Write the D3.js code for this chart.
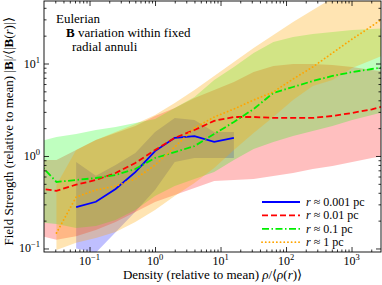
<!DOCTYPE html>
<html>
<head>
<meta charset="utf-8">
<script src="https://cdn.jsdelivr.net/npm/d3@7"></script>
<style>
  body { margin: 0; background: #fff; }
  svg text { font-family: "Liberation Serif", serif; fill: #000; }
</style>
</head>
<body>
<div id="chart"></div>
<script>
// density bins (relative to mean), factor-2 spacing: 2^-6 .. 2^12
var densBins = [0.015625, 0.03125, 0.0625, 0.125, 0.25, 0.5, 1, 2, 4, 8, 16, 32, 64, 128, 256, 512, 1024, 2048, 4096];

// r ~ 0.001 pc (bins 0.0625 .. 16)
var blueX = densBins.slice(2, 11);
var blueMid = [0.28, 0.32, 0.44, 0.67, 1.13, 1.57, 1.64, 1.42, 1.57];
var blueHi  = [0.86, 0.61, 0.80, 1.08, 1.82, 2.58, 2.45, 1.82, 1.82];
var blueLo  = [0.10, 0.09, 0.15, 0.25, 0.43, 0.86, 0.95, 0.95, 0.95];

// r ~ 0.01 pc
var redX = densBins;
var redMid = [0.45, 0.42, 0.49, 0.55, 0.655, 0.84, 1.16, 1.57, 1.91, 2.4, 2.64, 2.64, 2.58, 2.58, 2.58, 2.71, 2.92, 3.2, 3.65];
var redHi  = [0.906, 0.906, 1.16, 1.49, 1.77, 2.11, 2.71, 3.30, 4.24, 5.17, 6.31, 8.09, 9.4, 9.88, 9.88, 9.63, 9.17, 8.51, 8.09];
var redLo  = [0.140, 0.124, 0.136, 0.158, 0.193, 0.248, 0.318, 0.379, 0.451, 0.537, 0.55, 0.564, 0.608, 0.655, 0.723, 0.78, 0.861, 0.952, 1.03];

// r ~ 0.1 pc
var greenX = densBins;
var greenMid = [0.883, 0.524, 0.55, 0.578, 0.623, 0.723, 0.952, 1.10, 1.28, 1.73, 2.33, 3.22, 4.80, 5.57, 6.47, 7.33, 8.09, 8.72, 9.4];
var greenHi  = [1.42, 1.60, 1.73, 1.91, 2.06, 2.27, 2.51, 3.30, 4.34, 6.63, 9.17, 13.0, 17.1, 19.3, 20.8, 21.9, 23.0, 23.6, 24.2];
var greenLo  = [0.193, 0.184, 0.167, 0.175, 0.203, 0.261, 0.37, 0.474, 0.564, 0.671, 0.906, 1.19, 1.42, 1.64, 1.86, 2.11, 2.45, 2.78, 3.14];

// r ~ 1 pc (bins 0.03125 ..)
var orangeX = densBins.slice(1);
var orangeMid = [0.147, 0.36, 0.429, 0.474, 0.564, 0.799, 1.25, 2.01, 2.64, 3.22, 4.03, 4.92, 6.80, 9.17, 13.0, 18.4, 25.4, 36.0];
var orangeHi  = [0.486, 1.16, 1.49, 1.82, 2.22, 2.78, 3.74, 5.17, 7.33, 10.4, 14.7, 20.3, 28.1, 37.9, 51, 69, 94, 119];
var orangeLo  = [0.096, 0.115, 0.13, 0.151, 0.193, 0.261, 0.37, 0.511, 0.742, 1.16, 1.77, 2.64, 4.03, 5.71, 6.63, 8.94, 10.9, 13.3];

var legendLabels = ["0.001", "0.01", "0.1", "1"];
var xMajor = [0.1, 1, 10, 100, 1000];
var xMajorExp = ["\u22121", "0", "1", "2", "3"];
var yMajor = [0.1, 1, 10];
var yMajorExp = ["\u22121", "0", "1"];

var series = [
  {x: blueX, mid: blueMid, hi: blueHi, lo: blueLo, color: "#0000ff", fill: "#0000ff", op: 0.25, dash: null, cap: "butt"},
  {x: redX, mid: redMid, hi: redHi, lo: redLo, color: "#ff0000", fill: "#ff0000", op: 0.25, dash: "6,3", cap: "butt"},
  {x: greenX, mid: greenMid, hi: greenHi, lo: greenLo, color: "#00ee00", fill: "#00ff00", op: 0.25, dash: "7,2.5,1.5,2.5", cap: "butt"},
  {x: orangeX, mid: orangeMid, hi: orangeHi, lo: orangeLo, color: "#ffa500", fill: "#ffa500", op: 0.3, dash: "0.1,3.6", cap: "round"}
];

var margin = {top: 1, right: 1, bottom: 33, left: 44};
var W = 382, H = 285;
var width = W - margin.left - margin.right,
    height = H - margin.top - margin.bottom;

var svg = d3.select("#chart").append("svg")
    .attr("width", W)
    .attr("height", H)
  .append("g")
    .attr("transform", "translate(" + margin.left + "," + margin.top + ")");

var x = d3.scaleLog().domain([0.02018, 2818]).range([0, width]);
var y = d3.scaleLog().domain([0.0916, 47.4]).range([height, 0]);

svg.append("clipPath").attr("id", "clip")
  .append("rect").attr("width", width).attr("height", height);

var plot = svg.append("g").attr("clip-path", "url(#clip)");

var area = d3.area()
    .x(function(d) { return x(d.x); })
    .y0(function(d) { return y(d.lo); })
    .y1(function(d) { return y(d.hi); });

var line = d3.line()
    .x(function(d) { return x(d.x); })
    .y(function(d) { return y(d.v); });

series.forEach(function(s) {
  var pts = s.x.map(function(v, i) { return {x: v, lo: s.lo[i], hi: s.hi[i]}; });
  plot.append("path")
    .datum(pts)
    .attr("d", area)
    .style("fill", s.fill)
    .style("fill-opacity", s.op)
    .style("stroke", "none");
});

series.forEach(function(s) {
  var pts = s.x.map(function(v, i) { return {x: v, v: s.mid[i]}; });
  plot.append("path")
    .datum(pts)
    .attr("d", line)
    .style("fill", "none")
    .style("stroke", s.color)
    .style("stroke-width", 1.8)
    .style("stroke-linecap", s.cap)
    .style("stroke-dasharray", s.dash);
});

// minor ticks
function minors(lo, hi) {
  var out = [];
  for (var e = lo; e <= hi; e++)
    for (var k = 2; k <= 9; k++) out.push(k * Math.pow(10, e));
  return out;
}
var xMinor = minors(-2, 3).filter(function(v) { return v > x.domain()[0] && v < x.domain()[1]; });
var yMinor = minors(-2, 1).filter(function(v) { return v > y.domain()[0] && v < y.domain()[1]; });

function tickAxis(axisFn, scale, vals, size, transform) {
  var g = svg.append("g")
      .attr("class", "axis")
      .attr("transform", transform || null)
      .call(axisFn(scale).tickValues(vals).tickSize(size).tickFormat(""));
  g.select(".domain").remove();
  g.selectAll("line").style("stroke", "#000").style("stroke-width", 0.8);
}

tickAxis(d3.axisBottom, x, xMajor, -5, "translate(0," + height + ")");
tickAxis(d3.axisBottom, x, xMinor, -2.5, "translate(0," + height + ")");
tickAxis(d3.axisTop, x, xMajor, -5);
tickAxis(d3.axisTop, x, xMinor, -2.5);
tickAxis(d3.axisLeft, y, yMajor, -5);
tickAxis(d3.axisLeft, y, yMinor, -2.5);
tickAxis(d3.axisRight, y, yMajor, -5, "translate(" + width + ",0)");
tickAxis(d3.axisRight, y, yMinor, -2.5, "translate(" + width + ",0)");

svg.append("rect")
    .attr("width", width).attr("height", height)
    .style("fill", "none").style("stroke", "#000").style("stroke-width", 0.9);

// tick labels with superscripts
xMajor.forEach(function(v, i) {
  var t = svg.append("text")
      .attr("x", x(v))
      .attr("y", height + 13)
      .attr("text-anchor", "middle")
      .style("font-size", "12px");
  t.append("tspan").text("10");
  t.append("tspan").attr("dy", -5).style("font-size", "8.5px").text(xMajorExp[i]);
});

yMajor.forEach(function(v, i) {
  var t = svg.append("text")
      .attr("x", -4)
      .attr("y", y(v) + 4)
      .attr("text-anchor", "end")
      .style("font-size", "12px");
  t.append("tspan").text("10");
  t.append("tspan").attr("dy", -5).style("font-size", "8.5px").text(yMajorExp[i]);
});

// axis titles
var xt = svg.append("text")
    .attr("x", width / 2)
    .attr("y", height + 27)
    .attr("text-anchor", "middle")
    .style("font-size", "13px");
xt.append("tspan").text("Density (relative to mean) ");
xt.append("tspan").style("font-style", "italic").text("\u03c1");
xt.append("tspan").text("/\u27e8");
xt.append("tspan").style("font-style", "italic").text("\u03c1");
xt.append("tspan").text("(");
xt.append("tspan").style("font-style", "italic").text("r");
xt.append("tspan").text(")\u27e9");

var yt = svg.append("text")
    .attr("transform", "translate(" + (-31) + "," + (height / 2 + 5) + ") rotate(-90)")
    .attr("text-anchor", "middle")
    .style("font-size", "13px");
yt.append("tspan").text("Field Strength (relative to mean) |");
yt.append("tspan").style("font-weight", "bold").text("B");
yt.append("tspan").text("|/\u27e8|");
yt.append("tspan").style("font-weight", "bold").text("B");
yt.append("tspan").text("(");
yt.append("tspan").style("font-style", "italic").text("r");
yt.append("tspan").text(")|\u27e9");

// annotation
svg.append("text").attr("x", 12).attr("y", 22).style("font-size", "13px").text("Eulerian");
var a2 = svg.append("text").attr("x", 22).attr("y", 36).style("font-size", "13px");
a2.append("tspan").style("font-weight", "bold").text("B");
a2.append("tspan").text(" variation within fixed");
svg.append("text").attr("x", 28).attr("y", 50).style("font-size", "13px").text("radial annuli");

// legend
var leg = svg.append("g").attr("transform", "translate(218,201)");
series.forEach(function(s, i) {
  var row = leg.append("g").attr("transform", "translate(0," + (i * 13.4) + ")");
  row.append("line")
      .attr("x1", 0).attr("x2", 38).attr("y1", 0).attr("y2", 0)
      .style("stroke", s.color)
      .style("stroke-width", 1.8)
      .style("stroke-linecap", s.cap)
      .style("stroke-dasharray", s.dash);
  var t = row.append("text").attr("x", 44).attr("y", 4).style("font-size", "12px");
  t.append("tspan").style("font-style", "italic").text("r");
  t.append("tspan").text(" \u2248 " + legendLabels[i] + " pc");
});
</script>
</body>
</html>
